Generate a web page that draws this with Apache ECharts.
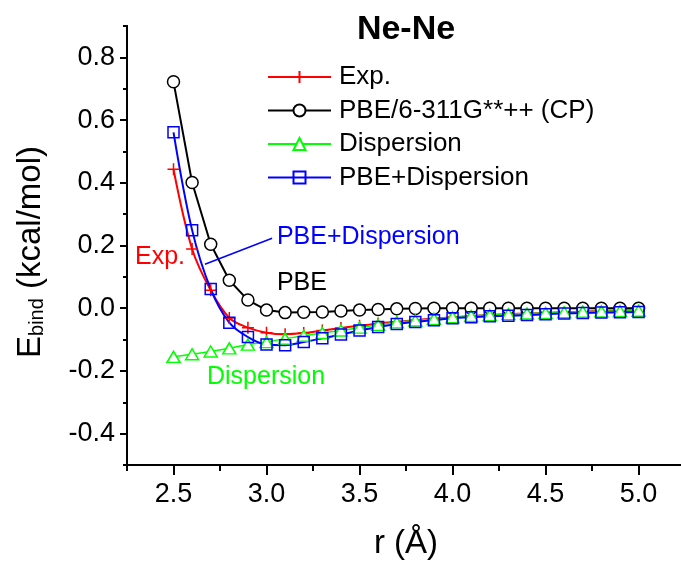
<!DOCTYPE html>
<html><head><meta charset="utf-8">
<script src="https://cdn.jsdelivr.net/npm/echarts@6/dist/echarts.min.js"></script>
<style>html,body{margin:0;padding:0;background:#fff}#c{width:681px;height:561px}</style>
</head><body><div id="c"></div>
<script>
// ---- data ----
const r = [2.5,2.6,2.7,2.8,2.9,3.0,3.1,3.2,3.3,3.4,3.5,3.6,3.7,3.8,3.9,4.0,4.1,4.2,4.3,4.4,4.5,4.6,4.7,4.8,4.9,5.0];
const expVals = [0.443,0.189,0.057,-0.031,-0.062,-0.078,-0.083,-0.079,-0.071,-0.063,-0.056,-0.049,-0.043,-0.038,-0.033,-0.029,-0.025,-0.022,-0.019,-0.017,-0.015,-0.013,-0.011,-0.009,-0.008,-0.007];
const pbeVals = [0.722,0.401,0.204,0.089,0.026,-0.006,-0.014,-0.013,-0.012,-0.009,-0.006,-0.004,-0.002,-0.001,0.000,0.000,0.000,0.000,0.000,0.000,0.000,0.000,0.000,0.000,0.000,0.000];
const dispVals = [-0.155,-0.147,-0.138,-0.128,-0.116,-0.108,-0.097,-0.088,-0.079,-0.071,-0.062,-0.053,-0.045,-0.039,-0.034,-0.029,-0.025,-0.022,-0.019,-0.017,-0.015,-0.013,-0.011,-0.010,-0.009,-0.008];
const pbeDispVals = [0.561,0.249,0.061,-0.046,-0.092,-0.116,-0.118,-0.108,-0.096,-0.084,-0.071,-0.060,-0.050,-0.044,-0.038,-0.032,-0.029,-0.026,-0.024,-0.022,-0.019,-0.017,-0.015,-0.014,-0.013,-0.012];
const seriesNames = ['Exp.','PBE/6-311G**++ (CP)','Dispersion','PBE+Dispersion'];
const xMajor = [2.5,3.0,3.5,4.0,4.5,5.0];
const xMinor = [2.25,2.75,3.25,3.75,4.25,4.75];
const yMajor = [-0.4,-0.2,0.0,0.2,0.4,0.6,0.8];
const yMinor = [-0.5,-0.3,-0.1,0.1,0.3,0.5,0.7,0.9];
const titleText = 'Ne-Ne';
// annotation anchors in data units
const annExp = [2.293,0.163];
const annPbeDisp = [3.056,0.227];
const annPbe = [3.056,0.080];
const annDisp = [2.680,-0.220];
const leader = [[3.030,0.223],[2.669,0.140]];

const FONT = '"Liberation Sans", Arial, Helvetica, sans-serif';
const pair = (xs, ys) => xs.map((x,i)=>[x, ys[i]]);
const chart = echarts.init(document.getElementById('c'), null, {renderer:'canvas'});

const xBase = {type:'value', min:2.25, max:5.228, position:'bottom', splitLine:{show:false},
  axisLine:{show:true, onZero:false, lineStyle:{color:'#000', width:2}}};
const yBase = {type:'value', min:-0.5, max:0.9, position:'left', splitLine:{show:false},
  axisLine:{show:true, onZero:false, lineStyle:{color:'#000', width:2}}};

chart.setOption({
  animation:false,
  backgroundColor:'#fff',
  grid:{left:127, top:26, right:0, bottom:96, containLabel:false},
  xAxis:[
    Object.assign({}, xBase, {
      axisTick:{show:true, inside:false, length:10, lineStyle:{color:'#000', width:2}, customValues:xMajor},
      axisLabel:{show:true, margin:16, fontSize:27, color:'#000', fontFamily:FONT, customValues:xMajor,
        formatter:v=>Number(v).toFixed(1)}
    }),
    Object.assign({}, xBase, {
      axisTick:{show:true, inside:false, length:6, lineStyle:{color:'#000', width:2}, customValues:xMinor},
      axisLabel:{show:false}
    })
  ],
  yAxis:[
    Object.assign({}, yBase, {
      axisTick:{show:true, inside:false, length:7, lineStyle:{color:'#000', width:2}, customValues:yMajor},
      axisLabel:{show:true, margin:12, fontSize:27, color:'#000', fontFamily:FONT, customValues:yMajor,
        formatter:v=>Number(v).toFixed(1)}
    }),
    Object.assign({}, yBase, {
      axisTick:{show:true, inside:false, length:4, lineStyle:{color:'#000', width:2}, customValues:yMinor},
      axisLabel:{show:false}
    })
  ],
  legend:{
    data:seriesNames, orient:'vertical', left:262, top:59,
    itemWidth:63, itemHeight:15, itemGap:7.5,
    textStyle:{fontSize:26, color:'#000', fontFamily:FONT, lineHeight:26, padding:[0,0,0,3]}
  },
  series:[
    {name:seriesNames[0], type:'line', data:pair(r,expVals), smooth:0.35,
      symbol:'path://M0,6L12,6M6,0L6,12', symbolSize:12,
      lineStyle:{color:'#ff0000', width:2},
      itemStyle:{color:'#ff0000', borderColor:'#ff0000', borderWidth:1.5}},
    {name:seriesNames[1], type:'line', data:pair(r,pbeVals),
      symbol:'circle', symbolSize:12,
      lineStyle:{color:'#000', width:2},
      itemStyle:{color:'#fff', borderColor:'#000', borderWidth:1.5}},
    {name:seriesNames[2], type:'line', data:pair(r,dispVals),
      symbol:'triangle', symbolSize:[13,11],
      lineStyle:{color:'#00ff00', width:1.5},
      itemStyle:{color:'#fff', borderColor:'#00ff00', borderWidth:1.5}},
    {name:seriesNames[3], type:'line', data:pair(r,pbeDispVals), smooth:0.35,
      symbol:'rect', symbolSize:11,
      lineStyle:{color:'#0000ff', width:2},
      itemStyle:{color:'rgba(0,0,0,0)', borderColor:'#0000ff', borderWidth:1.5}},
    {name:'leader', type:'line', data:leader, symbol:'none', silent:true,
      lineStyle:{color:'#0000ff', width:1.5}}
  ]
});

const P = p => chart.convertToPixel({xAxisIndex:0, yAxisIndex:0}, p);
const txt = (pos, text, color, size, extra) => Object.assign({type:'text', x:pos[0], y:pos[1],
  style:{text:text, fill:color, fontSize:size, fontFamily:FONT, align:'left', verticalAlign:'middle'}}, extra||{});

const pExp = P(annExp), pPD = P(annPbeDisp), pPbe = P(annPbe), pDisp = P(annDisp);
chart.setOption({
  graphic:[
    txt(pExp, 'Exp.', '#ff0000', 25),
    txt(pPD, 'PBE+Dispersion', '#0000ff', 25),
    txt(pPbe, 'PBE', '#000', 25),
    txt(pDisp, 'Dispersion', '#00ff00', 25),
    {type:'text', x:406, y:30, style:{text:titleText, fill:'#000', fontSize:34, fontWeight:'bold',
      fontFamily:FONT, align:'center', verticalAlign:'middle'}},
    {type:'text', x:406, y:544, style:{text:'r (Å)', fill:'#000', fontSize:33, fontFamily:FONT,
      align:'center', verticalAlign:'middle'}},
    {type:'text', x:31, y:252, rotation:Math.PI/2,
      style:{text:'{e|E}{s|bind}{e| (kcal/mol)}', fill:'#000', fontFamily:FONT, align:'center', verticalAlign:'middle',
        rich:{e:{fontSize:33, lineHeight:33, fontFamily:FONT, fill:'#000'},
              s:{fontSize:20, lineHeight:12, verticalAlign:'bottom', fontFamily:FONT, fill:'#000'}}}}
  ]
});
</script></body></html>
